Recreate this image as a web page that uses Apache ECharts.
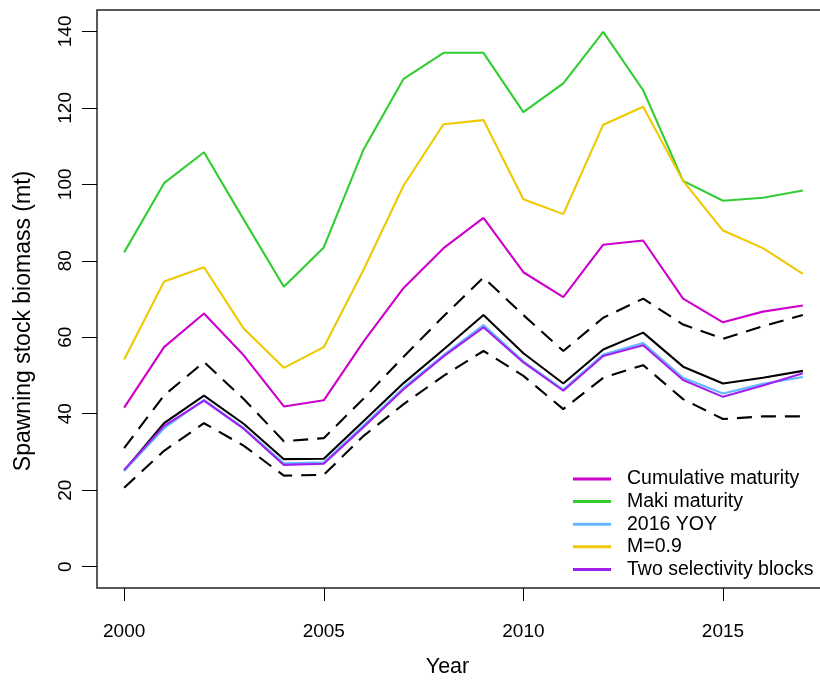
<!DOCTYPE html>
<html>
<head>
<meta charset="utf-8">
<script src="https://cdn.jsdelivr.net/npm/echarts@6/dist/echarts.min.js"></script>
<style>
  html, body { margin: 0; padding: 0; background: #fff; overflow: hidden; }
  /* plot box runs a little past the right edge, as in the source figure */
  #chart { width: 850px; height: 683px; }
</style>
</head>
<body>
<div id="chart"></div>
<script>
const years = [2000, 2001, 2002, 2003, 2004, 2005, 2006, 2007, 2008,
  2009, 2010, 2011, 2012, 2013, 2014, 2015, 2016, 2017];

// base model with its interval (black)
const baseSSB = [25.1, 37.5, 44.7, 37.3, 28.1, 28.2, 38.1, 48.0, 56.8,
  65.8, 55.8, 47.9, 56.8, 61.2, 52.3, 47.9, 49.4, 51.2];
const upperCI = [31.0, 44.8, 53.5, 43.8, 32.8, 33.6, 44.0, 54.9, 65.5,
  75.6, 65.8, 56.4, 65.1, 70.1, 63.3, 59.6, 62.9, 65.8];
const lowerCI = [20.6, 30.3, 37.5, 31.6, 23.8, 24.0, 34.2, 42.5, 49.9,
  56.4, 49.9, 41.2, 49.4, 52.7, 43.8, 38.6, 39.3, 39.3];

// sensitivity runs
const cumulative = [41.6, 57.4, 66.2, 55.2, 41.9, 43.5, 58.9, 72.9, 83.3,
  91.2, 77.0, 70.5, 84.2, 85.3, 70.1, 63.9, 66.7, 68.3];
const maki = [82.2, 100.3, 108.4, 90.7, 73.2, 83.5, 109.2, 127.6, 134.4,
  134.4, 118.9, 126.4, 139.9, 124.6, 100.9, 95.7, 96.5, 98.4];
const yoy2016 = [25.0, 36.2, 43.6, 36.2, 27.0, 27.3, 37.0, 46.8, 55.3,
  63.2, 53.7, 46.3, 55.5, 58.5, 49.4, 45.3, 47.8, 49.6];
const m09 = [54.2, 74.6, 78.3, 62.2, 52.0, 57.4, 77.7, 99.7, 115.7,
  116.8, 96.1, 92.2, 115.6, 120.3, 100.9, 87.9, 83.3, 76.6];
const twoBlocks = [25.3, 36.8, 43.4, 36.0, 26.6, 26.9, 36.5, 46.4, 55.0,
  62.6, 53.4, 46.0, 55.1, 57.9, 48.8, 44.4, 47.4, 50.6];

const xTicks = [2000, 2005, 2010, 2015];
const yTicks = [0, 20, 40, 60, 80, 100, 120, 140];

const FONT = "'Liberation Sans', Arial, sans-serif";
const pairs = (vals) => years.map((y, i) => [y, vals[i]]);

const line = (name, vals, color, extra = {}) => ({
  name,
  type: "line",
  data: pairs(vals),
  symbol: "none",
  silent: true,
  animation: false,
  lineStyle: { color, width: 2.1, ...extra },
  itemStyle: { color },
});

const chart = echarts.init(document.getElementById("chart"), null, { renderer: "canvas" });

chart.setOption({
  backgroundColor: "#fff",
  textStyle: { fontFamily: FONT },
  grid: {
    left: 97, right: 20, top: 10, bottom: 93,
    show: true, borderColor: "#222", borderWidth: 1.5,
  },
  legend: {
    orient: "vertical",
    left: 568,
    top: 463,
    icon: "rect",
    itemWidth: 38,
    itemHeight: 3,
    itemGap: 0.6,
    data: ["Cumulative maturity", "Maki maturity", "2016 YOY", "M=0.9", "Two selectivity blocks"],
    textStyle: { fontSize: 19.5, color: "#000", fontFamily: FONT, lineHeight: 22, padding: [0, 0, 0, 11] },
    selectedMode: false,
  },
  xAxis: {
    type: "value",
    min: 1999.32,
    max: 2017.68,
    name: "Year",
    nameLocation: "middle",
    nameGap: 68,
    nameTextStyle: { fontSize: 21.5, color: "#000", padding: [0, 32, 0, 0] },
    axisLine: { show: false, onZero: false },
    splitLine: { show: false },
    axisTick: { show: true, customValues: xTicks, length: 13, lineStyle: { color: "#000", width: 1 } },
    axisLabel: { customValues: xTicks, fontSize: 19, color: "#000", margin: 34, formatter: (v) => String(v) },
  },
  yAxis: {
    type: "value",
    min: -5.6,
    max: 145.6,
    name: "Spawning stock biomass (mt)",
    nameLocation: "middle",
    nameGap: 62,
    nameTextStyle: { fontSize: 23, color: "#000", padding: [0, 44, 0, 0] },
    axisLine: { show: false, onZero: false },
    splitLine: { show: false },
    axisTick: { show: true, customValues: yTicks, length: 15, lineStyle: { color: "#000", width: 1 } },
    axisLabel: { customValues: yTicks, fontSize: 19, color: "#000", rotate: 90, margin: 22 },
  },
  series: [
    line("base", baseSSB, "#000"),
    line("upper", upperCI, "#000", { type: [15, 9] }),
    line("lower", lowerCI, "#000", { type: [15, 9] }),
    line("Cumulative maturity", cumulative, "#CD00CD"),
    line("Maki maturity", maki, "#32CD32"),
    line("2016 YOY", yoy2016, "#63B8FF"),
    line("M=0.9", m09, "#EEC900"),
    line("Two selectivity blocks", twoBlocks, "#A020F0"),
  ],
});
</script>
</body>
</html>
